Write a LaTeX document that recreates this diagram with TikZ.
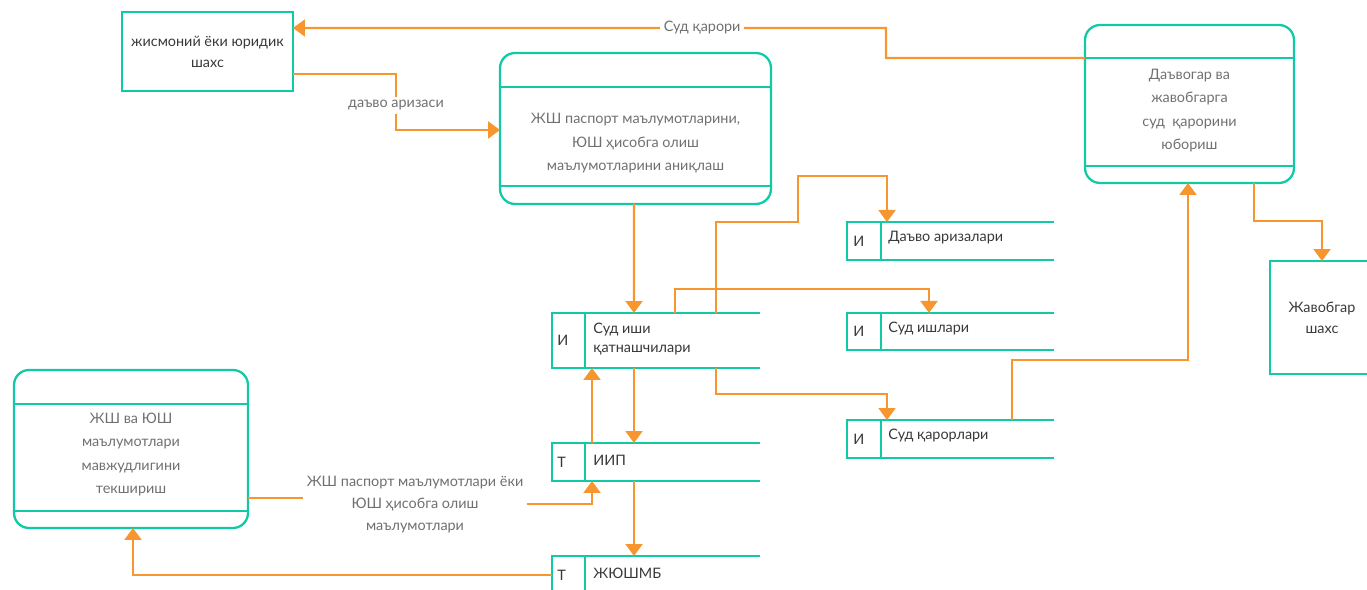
\documentclass[tikz,border=0pt]{standalone}
\usepackage{fontspec}
\setmainfont{Lato}
\usetikzlibrary{arrows.meta}
\definecolor{linegreen}{HTML}{12C9A6}
\definecolor{floworange}{HTML}{F7962F}
\definecolor{textgray}{HTML}{707070}
\definecolor{textdark}{HTML}{383838}

\begin{document}
\begin{tikzpicture}[x=0.02cm, y=-0.02cm,
    font=\fontsize{8.2}{12}\selectfont,
    entity/.style={draw=linegreen, line width=1.3pt, align=center, text=textdark, inner sep=0pt, outer sep=0pt},
    process/.style={draw=linegreen, line width=1.3pt, rounded corners=0.3cm, inner sep=0pt, outer sep=0pt},
    ptext/.style={align=center, text=textgray, font=\fontsize{8.2}{13.4}\selectfont},
    store/.style={inner sep=0pt, outer sep=0pt},
    storeline/.style={draw=linegreen, line width=1.3pt},
    stag/.style={anchor=west, text=textdark, inner sep=0pt},
    stext/.style={anchor=west, align=left, text=textdark, inner sep=0pt, font=\fontsize{8.2}{11.3}\selectfont},
    flow/.style={draw=floworange, line width=1.2pt, -{Triangle[width=0.34cm,length=0.24cm]}},
    flowlabel/.style={fill=white, text=textgray, align=center, inner sep=2pt, font=\fontsize{8.2}{12.5}\selectfont}]
\useasboundingbox (0,0) rectangle (1367,590);
% external entities
    \node[entity, minimum width=3.42cm, minimum height=1.58cm] (ent) at (207.5,51.5) {жисмоний ёки юридик\\шахс};
    \node[entity, minimum width=2.08cm, minimum height=2.26cm] (jav) at (1322,317.5) {Жавобгар\\шахс};
% processes
    \node[process, minimum width=5.42cm, minimum height=3.02cm] (p2) at (635.5,128.5) {};
    \draw[storeline] ([yshift=-0.68cm]p2.north west) -- ([yshift=-0.68cm]p2.north east);
    \draw[storeline] ([yshift=0.36cm]p2.south west) -- ([yshift=0.36cm]p2.south east);
    \node[ptext] (p2text) at ([yshift=-0.3cm]p2.center) {ЖШ паспорт маълумотларини,\\ЮШ ҳисобга олиш\\маълумотларини аниқлаш};
    \node[process, minimum width=4.18cm, minimum height=3.16cm] (p3) at (1189.5,104) {};
    \draw[storeline] ([yshift=-0.66cm]p3.north west) -- ([yshift=-0.66cm]p3.north east);
    \draw[storeline] ([yshift=0.34cm]p3.south west) -- ([yshift=0.34cm]p3.south east);
    \node[ptext] (p3text) at ([yshift=-0.13cm]p3.center) {Даъвогар ва\\жавобгарга\\суд~ қарорини\\юбориш};
    \node[process, minimum width=4.68cm, minimum height=3.16cm] (p4) at (131,449) {};
    \draw[storeline] ([yshift=-0.68cm]p4.north west) -- ([yshift=-0.68cm]p4.north east);
    \draw[storeline] ([yshift=0.34cm]p4.south west) -- ([yshift=0.34cm]p4.south east);
    \node[ptext] (p4text) at ([yshift=-0.11cm]p4.center) {ЖШ ва ЮШ\\маълумотлари\\мавжудлигини\\текшириш};
% data stores, left column
    \node[store, minimum width=4.16cm, minimum height=1.1cm] (sud) at (656,340.5) {};
    \draw[storeline] (sud.north east) -- (sud.north west) -- (sud.south west) -- (sud.south east);
    \draw[storeline] ([xshift=0.66cm]sud.north west) -- ([xshift=0.66cm]sud.south west);
    \node[stag] (sudtag) at ([xshift=0.1cm]sud.west) {И};
    \node[stext] (sudtext) at ([xshift=0.82cm,yshift=0.03cm]sud.west) {Суд иши\\қатнашчилари};
    \node[store, minimum width=4.16cm, minimum height=0.76cm] (iip) at (656,462) {};
    \draw[storeline] (iip.north east) -- (iip.north west) -- (iip.south west) -- (iip.south east);
    \draw[storeline] ([xshift=0.66cm]iip.north west) -- ([xshift=0.66cm]iip.south west);
    \node[stag] (iiptag) at ([xshift=0.1cm]iip.west) {Т};
    \node[stext] (iiptext) at ([xshift=0.82cm,yshift=0.04cm]iip.west) {ИИП};
    \node[store, minimum width=4.16cm, minimum height=0.76cm] (jush) at (656,575) {};
    \draw[storeline] (jush.north east) -- (jush.north west) -- (jush.south west) -- (jush.south east);
    \draw[storeline] ([xshift=0.66cm]jush.north west) -- ([xshift=0.66cm]jush.south west);
    \node[stag] (jushtag) at ([xshift=0.1cm]jush.west) {Т};
    \node[stext] (jushtext) at ([xshift=0.82cm,yshift=0.04cm]jush.west) {ЖЮШМБ};
% data stores, right column
    \node[store, minimum width=4.14cm, minimum height=0.76cm] (daavo) at (950.5,241) {};
    \draw[storeline] (daavo.north east) -- (daavo.north west) -- (daavo.south west) -- (daavo.south east);
    \draw[storeline] ([xshift=0.68cm]daavo.north west) -- ([xshift=0.68cm]daavo.south west);
    \node[stag] (daavotag) at ([xshift=0.12cm]daavo.west) {И};
    \node[stext] (daavotext) at ([xshift=0.82cm,yshift=0.06cm]daavo.west) {Даъво аризалари};
    \node[store, minimum width=4.14cm, minimum height=0.74cm] (ishlar) at (950.5,331.5) {};
    \draw[storeline] (ishlar.north east) -- (ishlar.north west) -- (ishlar.south west) -- (ishlar.south east);
    \draw[storeline] ([xshift=0.68cm]ishlar.north west) -- ([xshift=0.68cm]ishlar.south west);
    \node[stag] (ishlartag) at ([xshift=0.12cm]ishlar.west) {И};
    \node[stext] (ishlartext) at ([xshift=0.82cm,yshift=0.06cm]ishlar.west) {Суд ишлари};
    \node[store, minimum width=4.14cm, minimum height=0.76cm] (qaror) at (950.5,439) {};
    \draw[storeline] (qaror.north east) -- (qaror.north west) -- (qaror.south west) -- (qaror.south east);
    \draw[storeline] ([xshift=0.68cm]qaror.north west) -- ([xshift=0.68cm]qaror.south west);
    \node[stag] (qarortag) at ([xshift=0.12cm]qaror.west) {И};
    \node[stext] (qarortext) at ([xshift=0.82cm,yshift=0.06cm]qaror.west) {Суд қарорлари};
% flows
    \draw[flow] ([yshift=0.92cm]p3.west) -| ++(-199,-30) -- node[flowlabel, pos=0.31] (qarorlbl) {Суд қарори} ([yshift=0.47cm]ent.east);
    \draw[flow] ([yshift=-0.45cm]ent.east) -- ++(103,0) |- node[flowlabel, pos=0.28] (davolbl) {даъво аризаси} ([yshift=-0.03cm]p2.west);
    \draw[flow] ([xshift=-0.03cm]p2.south) -- ([xshift=-0.44cm]sud.north);
    \draw[flow] ([xshift=1.2cm]sud.north) -- ++(0,-91) -| ++(82,-46) -| ([xshift=-1.27cm]daavo.north);
    \draw[flow] ([xshift=0.38cm]sud.north) -- ++(0,-24) -| ([xshift=-0.43cm]ishlar.north);
    \draw[flow] ([xshift=1.2cm]sud.south) -- ++(0,26) -| ([xshift=-1.27cm]qaror.north);
    \draw[flow] ([xshift=-0.44cm]sud.south) -- ([xshift=-0.44cm]iip.north);
    \draw[flow] ([xshift=-1.28cm]iip.north) -- ([xshift=-1.28cm]sud.south);
    \draw[flow] ([xshift=-0.44cm]iip.south) -- ([xshift=-0.44cm]jush.north);
    \draw[flow] (jush.west) -| ([xshift=0.04cm]p4.south);
    \draw[flow] ([yshift=-0.98cm]p4.east) -- ++(167,0) -- ++(0,6) -| ([xshift=-1.28cm]iip.south);
    \node[flowlabel] (jshlbl) at (415,505) {ЖШ паспорт маълумотлари ёки\\ЮШ ҳисобга олиш\\маълумотлари};
    \draw[flow] ([xshift=1.29cm]p3.south) -- ++(0,38) -| (jav.north);
    \draw[flow] ([xshift=1.23cm]qaror.north) -- ++(0,-60) -| ([xshift=-0.03cm]p3.south);
\end{tikzpicture}
\end{document}
